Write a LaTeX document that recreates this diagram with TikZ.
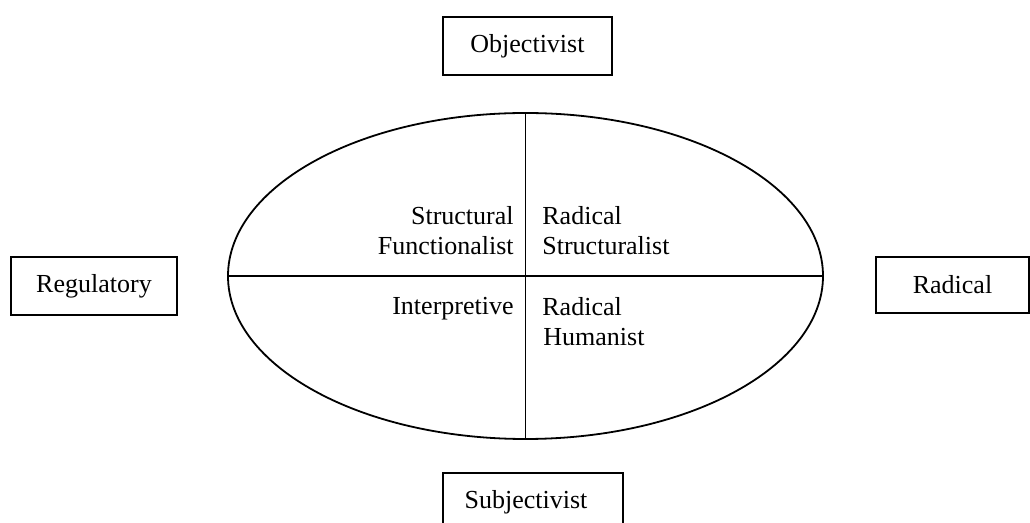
\documentclass[tikz,border=0pt]{standalone}
\usepackage{fontspec}
\setmainfont{Liberation Serif}
\usepackage{tikz}
\usetikzlibrary{shapes.geometric}

\begin{document}
\begin{tikzpicture}[x=0.5pt,y=-0.5pt,font=\fontsize{13}{15}\selectfont]
  \useasboundingbox (0,0) rectangle (1030,523);
  \tikzstyle{BoxStyle}=[draw,line width=0.9pt,inner sep=0pt,minimum height=29pt]
  \tikzstyle{QuadStyle}=[inner sep=0pt]
  \node[BoxStyle,minimum width=84.5pt] (obj) at (527.5,46) {Objectivist};
  \node[BoxStyle,minimum width=83pt] (reg) at (94,286) {Regulatory};
  \node[BoxStyle,minimum width=76.5pt,minimum height=28pt] (rad) at (952.5,285) {Radical};
  \node[BoxStyle,minimum width=90pt] (subj) at (533,502) {\hspace*{-7pt}Subjectivist};
  \node[draw,ellipse,line width=0.9pt,inner sep=0pt,
        minimum width=297.5pt,minimum height=163pt] (grid) at (525.5,276) {};
  \draw[line width=0.9pt] (grid.north) -- (grid.south);
  \draw[line width=0.9pt] (grid.west) -- (grid.east);
  \node[QuadStyle,anchor=north east,align=right] (sf) at (514,206) {Structural\\Functionalist};
  \node[QuadStyle,anchor=north west,align=left] (rs) at (542,206) {Radical\\Structuralist};
  \node[QuadStyle,anchor=base east] (int) at (514,315) {Interpretive};
  \node[QuadStyle,anchor=north west,align=left] (rh) at (542,297) {Radical\\\hspace*{0.5pt}Humanist};
\end{tikzpicture}
\end{document}
